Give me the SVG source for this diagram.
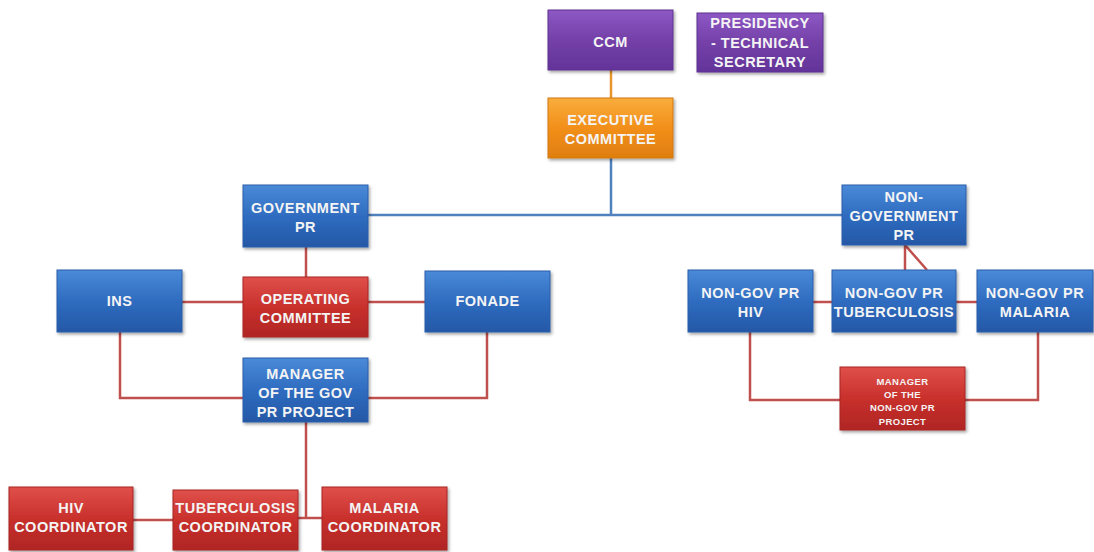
<svg xmlns="http://www.w3.org/2000/svg" width="1094" height="552" viewBox="0 0 1094 552">
<defs>
<linearGradient id="gBlue" x1="0" y1="0" x2="0" y2="1"><stop offset="0" stop-color="#4a8ad8"/><stop offset="0.5" stop-color="#2f6cc0"/><stop offset="1" stop-color="#2458a6"/></linearGradient>
<linearGradient id="gRed" x1="0" y1="0" x2="0" y2="1"><stop offset="0" stop-color="#e0504a"/><stop offset="0.5" stop-color="#c8302c"/><stop offset="1" stop-color="#b02624"/></linearGradient>
<linearGradient id="gPurple" x1="0" y1="0" x2="0" y2="1"><stop offset="0" stop-color="#8d58c4"/><stop offset="0.5" stop-color="#7440a8"/><stop offset="1" stop-color="#63349a"/></linearGradient>
<linearGradient id="gOrange" x1="0" y1="0" x2="0" y2="1"><stop offset="0" stop-color="#f9ad3c"/><stop offset="0.5" stop-color="#f28f1a"/><stop offset="1" stop-color="#e07e10"/></linearGradient>
<filter id="sh" x="-10%" y="-10%" width="125%" height="130%"><feDropShadow dx="1.5" dy="2" stdDeviation="1.5" flood-color="#000" flood-opacity="0.35"/></filter>
</defs>
<style>
.b{fill:url(#gBlue);filter:url(#sh);stroke:#2a5fa8;stroke-width:1}
.r{fill:url(#gRed);filter:url(#sh);stroke:#a82624;stroke-width:1}
.p{fill:url(#gPurple);filter:url(#sh);stroke:#5f3090;stroke-width:1}
.o{fill:url(#gOrange);filter:url(#sh);stroke:#d07810;stroke-width:1}
text{font-family:"Liberation Sans",Arial,sans-serif;font-weight:bold;fill:#f4f4f4;font-size:14.5px;letter-spacing:0.5px;text-anchor:middle}
.sm{font-size:9.5px;letter-spacing:0.4px}
.lb{fill:none;stroke:#4f81bd;stroke-width:2.5}
.lr{fill:none;stroke:#c0504d;stroke-width:2.5}
.lo{fill:none;stroke:#e8962e;stroke-width:2.5}
</style>
<rect width="1094" height="552" fill="#ffffff"/>
<g id="connectors">
<line class="lo" x1="611" y1="70" x2="611" y2="98"/>
<polyline class="lb" points="611,158 611,214"/>
<polyline class="lb" points="368,215 842,215"/>
<line class="lr" x1="306" y1="247" x2="306" y2="277"/>
<line class="lr" x1="182" y1="302" x2="243" y2="302"/>
<line class="lr" x1="368" y1="302" x2="425" y2="302"/>
<polyline class="lr" points="120,332 120,398 243,398"/>
<polyline class="lr" points="487,332 487,398 368,398"/>
<line class="lr" x1="306" y1="422" x2="306" y2="518"/>
<line class="lr" x1="133" y1="520" x2="173" y2="520"/>
<line class="lr" x1="298" y1="518" x2="322" y2="518"/>
<polyline class="lr" points="905,270 905,245 927,270"/>
<line class="lr" x1="813" y1="302" x2="832" y2="302"/>
<line class="lr" x1="956" y1="302" x2="977" y2="302"/>
<polyline class="lr" points="750,332 750,400 840,400"/>
<polyline class="lr" points="1038,332 1038,400 965,400"/>
</g>
<g id="ccm"><rect class="p" x="548" y="10" width="125" height="60"/><text x="610.5" y="47">CCM</text></g>
<g id="presidency"><rect class="p" x="697" y="13" width="126" height="59"/><text x="760" y="28">PRESIDENCY</text><text x="760" y="48">- TECHNICAL</text><text x="760" y="67">SECRETARY</text></g>
<g id="executive"><rect class="o" x="548" y="98" width="125" height="60"/><text x="610.5" y="125">EXECUTIVE</text><text x="610.5" y="144">COMMITTEE</text></g>
<g id="gov-pr"><rect class="b" x="243" y="185" width="125" height="62"/><text x="305.5" y="213">GOVERNMENT</text><text x="305.5" y="232">PR</text></g>
<g id="non-gov-pr"><rect class="b" x="842" y="185" width="124" height="60"/><text x="904" y="202">NON-</text><text x="904" y="221">GOVERNMENT</text><text x="904" y="240">PR</text></g>
<g id="ins"><rect class="b" x="57" y="270" width="125" height="62"/><text x="119.5" y="306">INS</text></g>
<g id="operating"><rect class="r" x="243" y="277" width="125" height="60"/><text x="305.5" y="304">OPERATING</text><text x="305.5" y="323">COMMITTEE</text></g>
<g id="fonade"><rect class="b" x="425" y="271" width="125" height="61"/><text x="487.5" y="306">FONADE</text></g>
<g id="manager-gov"><rect class="b" x="243" y="358" width="125" height="64"/><text x="305.5" y="379">MANAGER</text><text x="305.5" y="398">OF THE GOV</text><text x="305.5" y="417">PR PROJECT</text></g>
<g id="ng-hiv"><rect class="b" x="688" y="270" width="125" height="62"/><text x="750.5" y="298">NON-GOV PR</text><text x="750.5" y="317">HIV</text></g>
<g id="ng-tb"><rect class="b" x="832" y="270" width="124" height="62"/><text x="894" y="298">NON-GOV PR</text><text x="894" y="317">TUBERCULOSIS</text></g>
<g id="ng-malaria"><rect class="b" x="977" y="270" width="116" height="62"/><text x="1035" y="298">NON-GOV PR</text><text x="1035" y="317">MALARIA</text></g>
<g id="manager-ngov"><rect class="r" x="840" y="367" width="125" height="63"/><text class="sm" x="902.5" y="385">MANAGER</text><text class="sm" x="902.5" y="398">OF THE</text><text class="sm" x="902.5" y="411">NON-GOV PR</text><text class="sm" x="902.5" y="425">PROJECT</text></g>
<g id="hiv-coord"><rect class="r" x="9" y="487" width="124" height="63"/><text x="71" y="513">HIV</text><text x="71" y="532">COORDINATOR</text></g>
<g id="tb-coord"><rect class="r" x="173" y="490" width="125" height="60"/><text x="235.5" y="513">TUBERCULOSIS</text><text x="235.5" y="532">COORDINATOR</text></g>
<g id="malaria-coord"><rect class="r" x="322" y="487" width="125" height="63"/><text x="384.5" y="513">MALARIA</text><text x="384.5" y="532">COORDINATOR</text></g>
</svg>
